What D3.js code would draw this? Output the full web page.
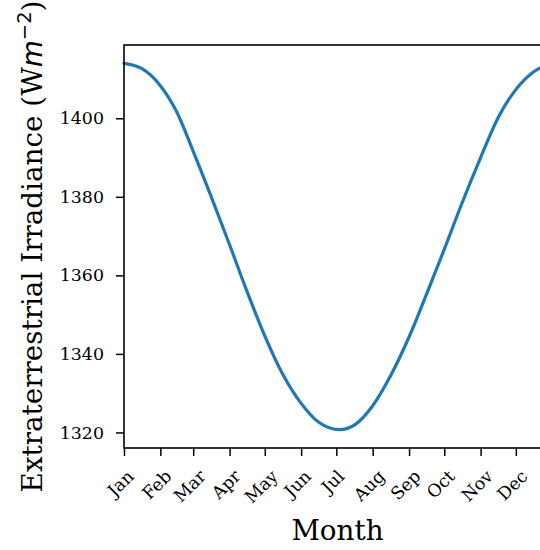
<!DOCTYPE html>
<html>
<head>
<meta charset="utf-8">
<script src="https://cdnjs.cloudflare.com/ajax/libs/d3/7.8.5/d3.min.js"></script>
<style>
  body { margin: 0; background: #fff; }
  text { font-family: "DejaVu Serif", serif; fill: #000; }
</style>
</head>
<body>
<div id="chart"></div>
<script>
// day of year and irradiance
var days = [1, 16, 32, 46, 60, 75, 91, 106, 121, 136, 152, 167, 185,
            198, 213, 228, 244, 259, 274, 289, 305, 320, 335, 350, 365];
var irradiance = [1414.0, 1412.7, 1408.3, 1401.6, 1391.6, 1380.3, 1367.8, 1355.8, 1344.6,
                  1335.0, 1327.4, 1322.6, 1320.7, 1322.0, 1326.8, 1334.3, 1344.3, 1355.3,
                  1366.6, 1378.3, 1390.0, 1400.2, 1407.3, 1411.8, 1414.0];
var monthDays = [1, 32, 60, 91, 121, 152, 182, 213, 244, 274, 305, 335];
var monthLabels = ["Jan", "Feb", "Mar", "Apr", "May", "Jun", "Jul", "Aug", "Sep", "Oct", "Nov", "Dec"];
var yTicks = [1320, 1340, 1360, 1380, 1400];

var w = 540, h = 550,
    mLeft = 124, mTop = 45, mRight = 551, mBottom = 448;

var svg = d3.select("#chart")
    .append("svg")
    .attr("width", w)
    .attr("height", h);

var data = days.map(function(d, i) { return {day: d, v: irradiance[i]}; });

// matplotlib-style 5% margins
var ext = d3.extent(irradiance), pad = (ext[1] - ext[0]) * 0.05;

var x = d3.scaleLinear().domain([1, 365]).range([mLeft, mRight]);
var y = d3.scaleLinear().domain([ext[0] - pad, ext[1] + pad]).range([mBottom, mTop]);

// the line
svg.append("path")
    .datum(data)
    .attr("fill", "none")
    .attr("stroke", "#1f77b4")
    .attr("stroke-width", 3.2)
    .attr("stroke-linecap", "round")
    .attr("d", d3.line()
        .curve(d3.curveMonotoneX)
        .x(function(d) { return x(d.day); })
        .y(function(d) { return y(d.v); }));

// spines
svg.append("rect")
    .attr("x", mLeft).attr("y", mTop)
    .attr("width", mRight - mLeft).attr("height", mBottom - mTop)
    .attr("fill", "none")
    .attr("stroke", "#000")
    .attr("stroke-width", 1.6);

// y axis
var yAxis = svg.append("g")
    .attr("transform", "translate(" + mLeft + ",0)")
    .call(d3.axisLeft(y).tickValues(yTicks).tickFormat(d3.format("d"))
        .tickSize(8).tickPadding(12));
yAxis.select(".domain").remove();
yAxis.selectAll(".tick line").attr("stroke-width", 1.5);
yAxis.selectAll(".tick text")
    .style("font-family", "DejaVu Serif")
    .style("font-size", "17.4px");

// x axis
var xAxis = svg.append("g")
    .attr("transform", "translate(0," + mBottom + ")")
    .call(d3.axisBottom(x).tickValues(monthDays)
        .tickFormat(function(d, i) { return monthLabels[i]; })
        .tickSize(8));
xAxis.select(".domain").remove();
xAxis.selectAll(".tick line").attr("stroke-width", 1.5);
xAxis.selectAll(".tick text")
    .style("font-family", "DejaVu Serif")
    .style("font-size", "17.4px")
    .attr("text-anchor", "middle")
    .attr("dy", null)
    .attr("dominant-baseline", "central")
    .attr("y", 0)
    .attr("transform", function() {
        // centre the rotated box under the tick, as matplotlib does
        var tw = this.getComputedTextLength(), th = 12;
        var off = 21 + (tw + th) * 0.3536;
        return "translate(-4," + off + ") rotate(-45)";
    });

// axis titles
svg.append("text")
    .attr("x", (mLeft + mRight) / 2)
    .attr("y", 540)
    .attr("text-anchor", "middle")
    .style("font-size", "27.8px")
    .text("Month");

var yl = svg.append("text")
    .attr("transform", "translate(42," + (mTop + mBottom) / 2 + ") rotate(-90)")
    .attr("text-anchor", "middle")
    .style("font-size", "27.8px");
yl.append("tspan").text("Extraterrestrial Irradiance (W");
yl.append("tspan").style("font-family", "DejaVu Sans").style("font-style", "italic").text("m");
yl.append("tspan").style("font-family", "DejaVu Sans").style("font-size", "19.5px")
    .attr("dy", -11).text("\u22122");
yl.append("tspan").attr("dy", 11).text(")");
</script>
</body>
</html>
